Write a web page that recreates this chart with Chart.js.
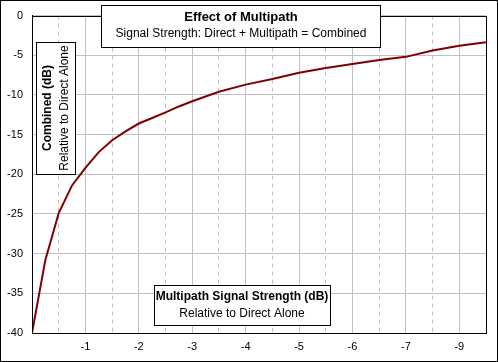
<!DOCTYPE html>
<html>
<head>
<meta charset="utf-8">
<title>Effect of Multipath</title>
<script src="https://cdn.jsdelivr.net/npm/chart.js@4.4.1/dist/chart.umd.min.js"></script>
<style>
  body { margin: 0; background: #fff; }
  #wrap { width: 498px; height: 362px; }
</style>
</head>
<body>
<div id="wrap"><canvas id="myChart" width="498" height="362"></canvas></div>
<script>
'use strict';

// multipath strength (dB) and the combined signal
const multipath = [0, -0.25, -0.5, -0.75, -1, -1.25, -1.5, -1.75, -2, -2.25, -2.5, -2.75, -3, -3.5, -4, -4.5, -5, -5.5, -6, -6.5, -7, -7.5, -8, -8.5];
const combined = [-40, -30.8, -24.9, -21.4, -19.2, -17.2, -15.7, -14.6, -13.6, -12.9, -12.2, -11.45, -10.8, -9.6, -8.7, -8.0, -7.2, -6.6, -6.1, -5.6, -5.2, -4.4, -3.8, -3.35];

// labels under the solid gridlines (the original skips -8 and says -9)
const xTickValues = [0, -1, -2, -3, -4, -5, -6, -7, -8];
const xTickLabels = ['', '-1', '-2', '-3', '-4', '-5', '-6', '-7', '-9'];
const xHalfTicks = [-0.5, -1.5, -2.5, -3.5, -4.5, -5.5, -6.5, -7.5];

const FONT = '"Liberation Sans", Arial, sans-serif';

let points = [];
for (let i = 0; i < multipath.length; i++) {
  points.push({ x: multipath[i], y: combined[i] });
}

// white boxes with a black frame, used for the title and axis titles
function textBox(ctx, x, y, w, h) {
  ctx.fillStyle = '#fff';
  ctx.fillRect(x, y, w, h);
  ctx.strokeStyle = '#000';
  ctx.lineWidth = 1;
  ctx.strokeRect(x + 0.5, y + 0.5, w, h);
}

const boxesPlugin = {
  id: 'boxes',
  beforeDraw(chart) {
    const ctx = chart.ctx;
    ctx.save();
    ctx.fillStyle = '#fff';
    ctx.fillRect(0, 0, chart.width, chart.height);
    ctx.restore();
  },
  afterDatasetsDraw(chart) {
    const ctx = chart.ctx;
    const a = chart.chartArea;
    ctx.save();
    ctx.strokeStyle = '#000';
    ctx.lineWidth = 1;
    ctx.strokeRect(Math.round(a.left) + 0.5, Math.round(a.top) + 0.5, Math.round(a.right - a.left), Math.round(a.bottom - a.top));
    ctx.restore();
  },
  afterDraw(chart) {
    const ctx = chart.ctx;
    ctx.save();
    ctx.textAlign = 'center';
    ctx.textBaseline = 'middle';

    // chart title
    textBox(ctx, 101, 5, 279, 42);
    ctx.fillStyle = '#000';
    ctx.font = 'bold 13px ' + FONT;
    ctx.fillText('Effect of Multipath', 241, 17);
    ctx.font = '12px ' + FONT;
    ctx.fillText('Signal Strength: Direct + Multipath = Combined', 241, 34);

    // x axis title
    textBox(ctx, 154, 285, 176, 40);
    ctx.fillStyle = '#000';
    ctx.font = 'bold 12px ' + FONT;
    ctx.fillText('Multipath Signal Strength (dB)', 242, 297);
    ctx.font = '12px ' + FONT;
    ctx.fillText('Relative to Direct Alone', 242, 314);

    // y axis title
    textBox(ctx, 36, 42, 39, 132);
    ctx.save();
    ctx.translate(56, 108);
    ctx.rotate(-Math.PI / 2);
    ctx.fillStyle = '#000';
    ctx.font = 'bold 12px ' + FONT;
    ctx.fillText('Combined (dB)', 0, -8);
    ctx.font = '12px ' + FONT;
    ctx.fillText('Relative to Direct Alone', 0, 9);
    ctx.restore();

    // outer frame
    ctx.strokeStyle = '#000';
    ctx.lineWidth = 1;
    ctx.strokeRect(0.5, 0.5, chart.width - 1, chart.height - 1);
    ctx.restore();
  }
};

let ctx = document.getElementById('myChart').getContext('2d');

let myChart = new Chart(ctx, {
  type: 'line',
  data: {
    datasets: [{
      label: 'Combined',
      data: points,
      borderColor: '#800000',
      backgroundColor: '#800000',
      borderWidth: 2,
      pointRadius: 0,
      tension: 0,
      fill: false
    }]
  },
  options: {
    responsive: false,
    animation: false,
    devicePixelRatio: 1,
    layout: {
      padding: { top: 15, right: 12, bottom: 0, left: 0 }
    },
    plugins: {
      legend: { display: false },
      title: { display: false },
      tooltip: { enabled: false }
    },
    scales: {
      x: {
        type: 'linear',
        position: 'bottom',
        min: -8.5,
        max: 0,
        reverse: true,
        afterBuildTicks: (scale) => {
          scale.ticks = xTickValues.map(v => ({ value: v }));
        },
        afterFit: (scale) => { scale.height = 29; },
        ticks: {
          color: '#000',
          font: { family: FONT, size: 11 },
          padding: 7,
          maxRotation: 0,
          autoSkip: false,
          callback: (value) => {
            let idx = xTickValues.indexOf(value);
            return idx >= 0 ? xTickLabels[idx] : '';
          }
        },
        grid: { color: '#c0c0c0', lineWidth: 1, drawTicks: false },
        border: { color: '#000', width: 1 }
      },
      xHalf: {
        type: 'linear',
        position: 'bottom',
        min: -8.5,
        max: 0,
        reverse: true,
        afterBuildTicks: (scale) => {
          scale.ticks = xHalfTicks.map(v => ({ value: v }));
        },
        afterFit: (scale) => { scale.height = 0; },
        ticks: { display: false },
        grid: { color: '#c0c0c0', lineWidth: 1, drawTicks: false },
        border: { display: false, dash: [4, 4] }
      },
      y: {
        type: 'linear',
        min: -40,
        max: 0,
        afterFit: (scale) => { scale.width = 32; },
        ticks: {
          stepSize: 5,
          color: '#000',
          font: { family: FONT, size: 11 },
          padding: 9
        },
        grid: { color: '#c0c0c0', lineWidth: 1, drawTicks: false },
        border: { color: '#000', width: 1 }
      }
    }
  },
  plugins: [boxesPlugin]
});
</script>
</body>
</html>
